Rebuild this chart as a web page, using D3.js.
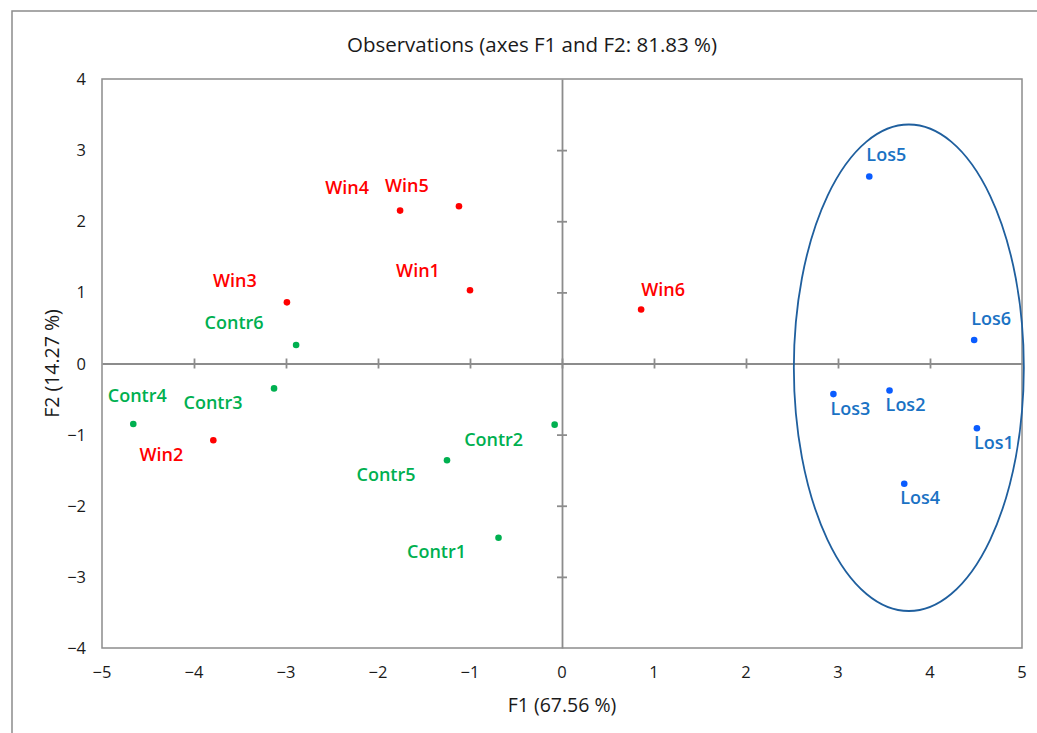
<!DOCTYPE html>
<meta charset="utf-8">
<script src="https://d3js.org/d3.v7.min.js"></script>
<style>
  body { margin: 0; background: #fff; font-family: "Open Sans", sans-serif; }
  .tick-label { font-size: 16.5px; fill: #1a1a1a; }
  .obs-label { font-size: 18px; font-weight: 600; }
</style>
<div id="chart"></div>
<script>
// observation names and their F1 / F2 scores
var winNames = ["Win1", "Win2", "Win3", "Win4", "Win5", "Win6"];
var winF1 = [-1.00, -3.79, -2.99, -1.76, -1.12, 0.86];
var winF2 = [1.03, -1.08, 0.86, 2.15, 2.21, 0.76];

var contrNames = ["Contr1", "Contr2", "Contr3", "Contr4", "Contr5", "Contr6"];
var contrF1 = [-0.69, -0.08, -3.13, -4.66, -1.25, -2.89];
var contrF2 = [-2.45, -0.86, -0.35, -0.85, -1.36, 0.26];

var losNames = ["Los1", "Los2", "Los3", "Los4", "Los5", "Los6"];
var losF1 = [4.51, 3.56, 2.95, 3.72, 3.34, 4.48];
var losF2 = [-0.91, -0.38, -0.43, -1.69, 2.63, 0.33];

var xTicks = [-5, -4, -3, -2, -1, 0, 1, 2, 3, 4, 5];
var yTicks = [-4, -3, -2, -1, 0, 1, 2, 3, 4];

// confidence ellipse around the Los group (centre, radii in axis units)
var ellipseCenter = [3.77, -0.06];
var ellipseRadius = [1.25, 3.42];

// label placement relative to each dot, in pixels (label centre)
var labelShift = {
  Win1: [-52, -20], Win2: [-52, 14], Win3: [-52, -22], Win4: [-53, -23], Win5: [-52, -21], Win6: [22, -20],
  Contr1: [-62, 14], Contr2: [-61, 15], Contr3: [-61, 14], Contr4: [4, -28], Contr5: [-61, 14], Contr6: [-62, -23],
  Los1: [17, 14], Los2: [16, 14], Los3: [17, 14], Los4: [16, 14], Los5: [17, -22], Los6: [17, -22]
};

var W = 1037, H = 733;
var margin = { top: 79, right: 15, bottom: 85, left: 102 };

var svg = d3.select("#chart").append("svg")
  .attr("width", W)
  .attr("height", H);

// outer frame (runs off the right and bottom)
svg.append("rect")
  .attr("x", 12).attr("y", 11)
  .attr("width", W + 20).attr("height", H + 20)
  .attr("fill", "none").attr("stroke", "#8c8c8c").attr("stroke-width", 1.5);

var x = d3.scaleLinear().domain([-5, 5]).range([margin.left, W - margin.right]);
var y = d3.scaleLinear().domain([-4, 4]).range([H - margin.bottom, margin.top]);

// plot border
svg.append("rect")
  .attr("x", x(-5)).attr("y", y(4))
  .attr("width", x(5) - x(-5)).attr("height", y(-4) - y(4))
  .attr("fill", "none").attr("stroke", "#8c8c8c").attr("stroke-width", 1.5);

// axes through the origin with crossing ticks
var xAxis = d3.axisBottom(x).tickValues(xTicks.slice(1, -1)).tickSizeInner(10).tickSizeOuter(0).tickFormat("");
svg.append("g")
  .attr("transform", "translate(0," + (y(0) - 5) + ")")
  .call(xAxis)
  .call(function(g) {
    g.select(".domain").attr("transform", "translate(0,5)");
  });
var yAxis = d3.axisLeft(y).tickValues(yTicks.slice(1, -1)).tickSizeInner(10).tickSizeOuter(0).tickFormat("");
svg.append("g")
  .attr("transform", "translate(" + (x(0) + 5) + ",0)")
  .call(yAxis)
  .call(function(g) {
    g.select(".domain").attr("transform", "translate(-5,0)");
  });
svg.selectAll(".domain, .tick line").attr("stroke", "#8c8c8c").attr("stroke-width", 1.8);

// tick labels on the frame
var fmt = function(d) { return d < 0 ? "\u2212" + Math.abs(d) : d; };
svg.append("g").selectAll("text").data(xTicks).join("text")
  .attr("class", "tick-label")
  .attr("x", function(d) { return x(d); })
  .attr("y", y(-4) + 30)
  .attr("text-anchor", "middle")
  .text(fmt);
svg.append("g").selectAll("text").data(yTicks).join("text")
  .attr("class", "tick-label")
  .attr("x", x(-5) - 16)
  .attr("y", function(d) { return y(d) + 6; })
  .attr("text-anchor", "end")
  .text(fmt);

// titles
svg.append("text")
  .attr("x", 532).attr("y", 52)
  .attr("text-anchor", "middle")
  .style("font-size", "20.5px").style("fill", "#1a1a1a")
  .text("Observations (axes F1 and F2: 81.83 %)");
svg.append("text")
  .attr("x", x(0)).attr("y", 712)
  .attr("text-anchor", "middle")
  .style("font-size", "19.5px").style("fill", "#1a1a1a")
  .text("F1 (67.56 %)");
svg.append("text")
  .attr("transform", "translate(59," + y(0) + ") rotate(-90)")
  .attr("text-anchor", "middle")
  .style("font-size", "19.5px").style("fill", "#1a1a1a")
  .text("F2 (14.27 %)");

// ellipse
svg.append("ellipse")
  .attr("cx", x(ellipseCenter[0])).attr("cy", y(ellipseCenter[1]))
  .attr("rx", x(ellipseRadius[0]) - x(0)).attr("ry", y(0) - y(ellipseRadius[1]))
  .attr("fill", "none").attr("stroke", "#1f5f9e").attr("stroke-width", 1.8);

// observation groups
function group(names, f1, f2, dotColor, textColor) {
  var rows = names.map(function(n, i) { return { name: n, f1: f1[i], f2: f2[i] }; });
  var g = svg.append("g");
  g.selectAll("circle").data(rows).join("circle")
    .attr("cx", function(d) { return x(d.f1); })
    .attr("cy", function(d) { return y(d.f2); })
    .attr("r", 3.3)
    .attr("fill", dotColor);
  g.selectAll("text").data(rows).join("text")
    .attr("class", "obs-label")
    .attr("x", function(d) { return x(d.f1) + labelShift[d.name][0]; })
    .attr("y", function(d) { return y(d.f2) + labelShift[d.name][1] + 6.5; })
    .attr("text-anchor", "middle")
    .attr("fill", textColor)
    .text(function(d) { return d.name; });
}
group(winNames, winF1, winF2, "#ff0000", "#ff0000");
group(contrNames, contrF1, contrF2, "#00b050", "#00b050");
group(losNames, losF1, losF2, "#0a5cff", "#1a72c4");
</script>
